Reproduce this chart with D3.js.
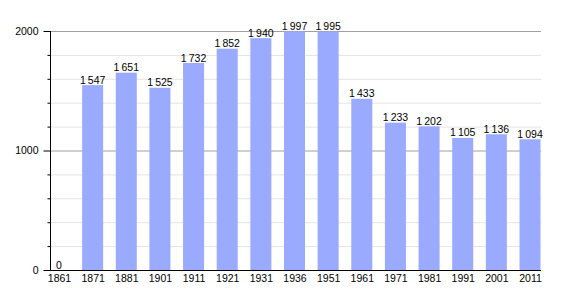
<!DOCTYPE html>
<html>
<head>
<meta charset="utf-8">
<script src="https://unpkg.com/d3@7/dist/d3.min.js"></script>
<style>
  body { margin: 0; background: #fff; }
  text { font-family: "Liberation Sans", Arial, sans-serif; }
</style>
</head>
<body>
<div id="chart"></div>
<script>
const years = ["1861", "1871", "1881", "1901", "1911", "1921", "1931", "1936", "1951", "1961", "1971", "1981", "1991", "2001", "2011"];
const population = [0, 1547, 1651, 1525, 1732, 1852, 1940, 1997, 1995, 1433, 1233, 1202, 1105, 1136, 1094];
const majorTicks = [0, 1000, 2000];
const minorTicks = [200, 400, 600, 800, 1200, 1400, 1600, 1800];

const width = 570;
const height = 300;
const plot = {left: 50, right: 541, top: 31, bottom: 270};
const barWidth = 21;

const svg = d3.select("#chart")
  .append("svg")
  .attr("width", width)
  .attr("height", height);

const x = d3.scalePoint()
  .domain(years)
  .range([59, 530]);

const y = d3.scaleLinear()
  .domain([0, 2000])
  .range([plot.bottom, plot.top]);

const fmt = v => d3.format(",")(v).replace(/,/g, "\u2009");

// gridlines
svg.append("g")
  .selectAll("line")
  .data(minorTicks)
  .join("line")
  .attr("x1", plot.left).attr("x2", plot.right)
  .attr("y1", d => y(d) + 0.5).attr("y2", d => y(d) + 0.5)
  .attr("stroke", "#e4e4e4");

svg.append("g")
  .selectAll("line")
  .data(majorTicks.filter(d => d > 0))
  .join("line")
  .attr("x1", plot.left).attr("x2", plot.right)
  .attr("y1", d => y(d) + 0.5).attr("y2", d => y(d) + 0.5)
  .attr("stroke", "#a0a0a0");

// bars
svg.append("g")
  .selectAll("rect")
  .data(population)
  .join("rect")
  .attr("x", (d, i) => x(years[i]) - barWidth / 2)
  .attr("y", d => y(d))
  .attr("width", barWidth)
  .attr("height", d => y(0) - y(d))
  .attr("fill", "#99aaff");

// value labels
svg.append("g")
  .selectAll("text")
  .data(population)
  .join("text")
  .attr("x", (d, i) => x(years[i]))
  .attr("y", d => y(d) - 1.5)
  .attr("text-anchor", "middle")
  .attr("font-size", 10.5)
  .text(d => fmt(d));

// y axis
const yAxis = svg.append("g")
  .attr("transform", `translate(${plot.left + 0.5},0)`);
yAxis.append("g")
  .call(d3.axisLeft(y).tickValues(minorTicks).tickSize(3).tickFormat(""))
  .call(g => g.select(".domain").remove());
yAxis.append("g")
  .call(d3.axisLeft(y).tickValues(majorTicks).tickSize(7).tickPadding(5).tickFormat(d => d))
  .call(g => g.select(".domain").remove())
  .selectAll("text")
  .attr("font-size", 10.5)
  .attr("fill", "#000");
yAxis.append("line")
  .attr("y1", plot.top).attr("y2", plot.bottom)
  .attr("stroke", "#000");

// x axis
const xAxis = svg.append("g")
  .attr("transform", `translate(0,${plot.bottom + 0.5})`);
xAxis.call(d3.axisBottom(x).tickSize(0).tickPadding(4.5))
  .call(g => g.select(".domain").remove())
  .selectAll("text")
  .attr("font-size", 10.5)
  .attr("fill", "#000");
xAxis.append("line")
  .attr("x1", plot.left).attr("x2", plot.right)
  .attr("stroke", "#000");
</script>
</body>
</html>
